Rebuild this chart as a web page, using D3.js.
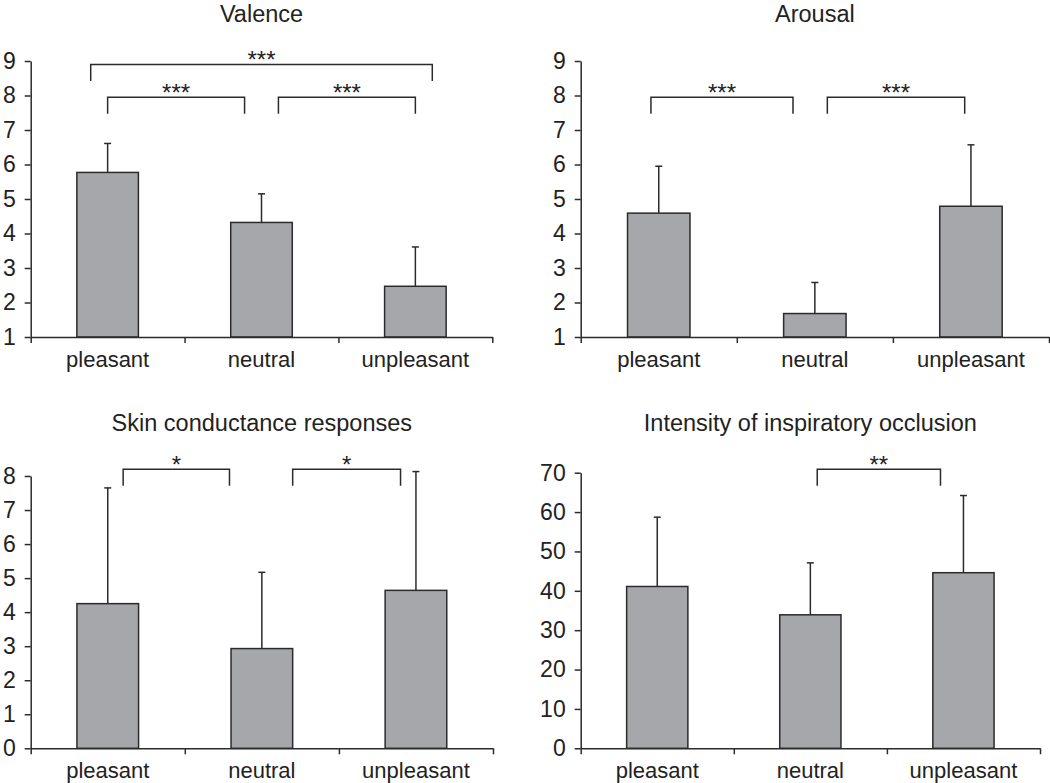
<!DOCTYPE html>
<html>
<head>
<meta charset="utf-8">
<script src="https://cdn.jsdelivr.net/npm/d3@7"></script>
<style>
  body { margin: 0; background: #fff; }
  svg text { font-family: Arial, "Liberation Sans", Helvetica, sans-serif; fill: #222; }
</style>
</head>
<body>
<svg id="chart" width="1050" height="783"></svg>
<script>
// categories shared by every panel
const categories = ["pleasant", "neutral", "unpleasant"]

// Valence
const valenceMean = [5.77, 4.32, 2.47]
const valenceSD = [0.84, 0.83, 1.14]
const valenceTicks = [1, 2, 3, 4, 5, 6, 7, 8, 9]
// brackets: from / to in category units, level in data units
const valenceSig = [
    { from: -0.11, to: 2.11, level: 8.9, label: "***" },
    { from: 0, to: 0.89, level: 7.95, label: "***" },
    { from: 1.11, to: 2, level: 7.95, label: "***" }
]

// Arousal
const arousalMean = [4.59, 1.68, 4.79]
const arousalSD = [1.36, 0.9, 1.78]
const arousalTicks = [1, 2, 3, 4, 5, 6, 7, 8, 9]
const arousalSig = [
    { from: -0.05, to: 0.86, level: 7.95, label: "***" },
    { from: 1.08, to: 1.96, level: 7.95, label: "***" }
]

// Skin conductance responses
const scrMean = [4.25, 2.93, 4.64]
const scrSD = [3.4, 2.24, 3.49]
const scrTicks = [0, 1, 2, 3, 4, 5, 6, 7, 8]
const scrSig = [
    { from: 0.1, to: 0.79, level: 8.2, label: "*" },
    { from: 1.2, to: 1.9, level: 8.2, label: "*" }
]

// Intensity of inspiratory occlusion
const occMean = [41.1, 33.9, 44.6]
const occSD = [17.6, 13.2, 19.6]
const occTicks = [0, 10, 20, 30, 40, 50, 60, 70]
const occSig = [
    { from: 1.045, to: 1.85, level: 70.9, label: "**" }
]

const panels = [
    { title: "Valence", mean: valenceMean, sd: valenceSD, ticks: valenceTicks, sig: valenceSig,
      domain: [1, 9], x0: 30.7, x1: 492.3, yTop: 61, yBot: 337, titleY: 21.5 },
    { title: "Arousal", mean: arousalMean, sd: arousalSD, ticks: arousalTicks, sig: arousalSig,
      domain: [1, 9], x0: 580.7, x1: 1049, yTop: 61, yBot: 337, titleY: 21.5 },
    { title: "Skin conductance responses", mean: scrMean, sd: scrSD, ticks: scrTicks, sig: scrSig,
      domain: [0, 8], x0: 30.7, x1: 493, yTop: 476, yBot: 748.3, titleY: 430.7 },
    { title: "Intensity of inspiratory occlusion", mean: occMean, sd: occSD, ticks: occTicks, sig: occSig,
      domain: [0, 70], x0: 580.7, x1: 1040, yTop: 472.7, yBot: 748.3, titleY: 430.7 }
]

const svg = d3.select("#chart")
const ink = "#2b2b2b"
const barFill = "#a6a7aa"

panels.forEach(p => drawPanel(p))

function drawPanel(p) {
    let g = svg.append("g")

    // category position scale: index -0.5 .. 2.5 spans the x axis
    let x = d3.scaleLinear().domain([-0.5, categories.length - 0.5]).range([p.x0, p.x1])
    let y = d3.scaleLinear().domain(p.domain).range([p.yBot, p.yTop])
    let band = x(1) - x(0)
    let barW = band * 0.4

    // title
    g.append("text")
        .attr("x", (p.x0 + p.x1) / 2)
        .attr("y", p.titleY)
        .attr("text-anchor", "middle")
        .attr("font-size", "23.5px")
        .text(p.title)

    let data = categories.map((c, i) => ({ c: c, i: i, m: p.mean[i], sd: p.sd[i] }))

    // error bars (drawn under the bar outline)
    g.selectAll(".err").data(data).enter()
        .append("line")
        .attr("x1", d => x(d.i)).attr("x2", d => x(d.i))
        .attr("y1", d => y(d.m)).attr("y2", d => y(d.m + d.sd))
        .attr("stroke", ink).attr("stroke-width", 1.5)
    g.selectAll(".cap").data(data).enter()
        .append("line")
        .attr("x1", d => x(d.i) - 3.5).attr("x2", d => x(d.i) + 3.5)
        .attr("y1", d => y(d.m + d.sd)).attr("y2", d => y(d.m + d.sd))
        .attr("stroke", ink).attr("stroke-width", 1.5)

    // bars
    g.selectAll(".bar").data(data).enter()
        .append("rect")
        .attr("x", d => x(d.i) - barW / 2)
        .attr("width", barW)
        .attr("y", d => y(d.m))
        .attr("height", d => y(p.domain[0]) - y(d.m))
        .attr("fill", barFill)
        .attr("stroke", ink)
        .attr("stroke-width", 1.5)

    // y axis
    let yAxis = d3.axisLeft(y).tickValues(p.ticks).tickSize(6).tickSizeOuter(0).tickPadding(9)
    let ya = g.append("g").attr("transform", `translate(${p.x0},0)`).call(yAxis)
    ya.selectAll("text").attr("font-size", "23px").attr("fill", "#222")
        .style("font-family", 'Arial, "Liberation Sans", sans-serif')
    ya.selectAll("line, path").attr("stroke", ink).attr("stroke-width", 1.5)

    // x axis: ticks at category boundaries, labels at centres
    let bounds = d3.range(categories.length + 1).map(i => i - 0.5)
    let xAxis = d3.axisBottom(x).tickValues(bounds).tickSize(6).tickSizeOuter(0).tickFormat("")
    let xa = g.append("g").attr("transform", `translate(0,${p.yBot})`).call(xAxis)
    xa.selectAll("line, path").attr("stroke", ink).attr("stroke-width", 1.5)

    g.selectAll(".cat").data(data).enter()
        .append("text")
        .attr("x", d => x(d.i))
        .attr("y", p.yBot + 30)
        .attr("text-anchor", "middle")
        .attr("font-size", "22px")
        .text(d => d.c)

    // significance brackets
    const leg = 16.5
    p.sig.forEach(s => {
        let yy = y(s.level)
        g.append("path")
            .attr("d", `M${x(s.from)},${yy + leg}V${yy}H${x(s.to)}V${yy + leg}`)
            .attr("fill", "none")
            .attr("stroke", ink)
            .attr("stroke-width", 1.5)
        g.append("text")
            .attr("x", (x(s.from) + x(s.to)) / 2)
            .attr("y", yy + 4)
            .attr("text-anchor", "middle")
            .attr("font-size", "24px")
            .text(s.label)
    })
}
</script>
</body>
</html>
